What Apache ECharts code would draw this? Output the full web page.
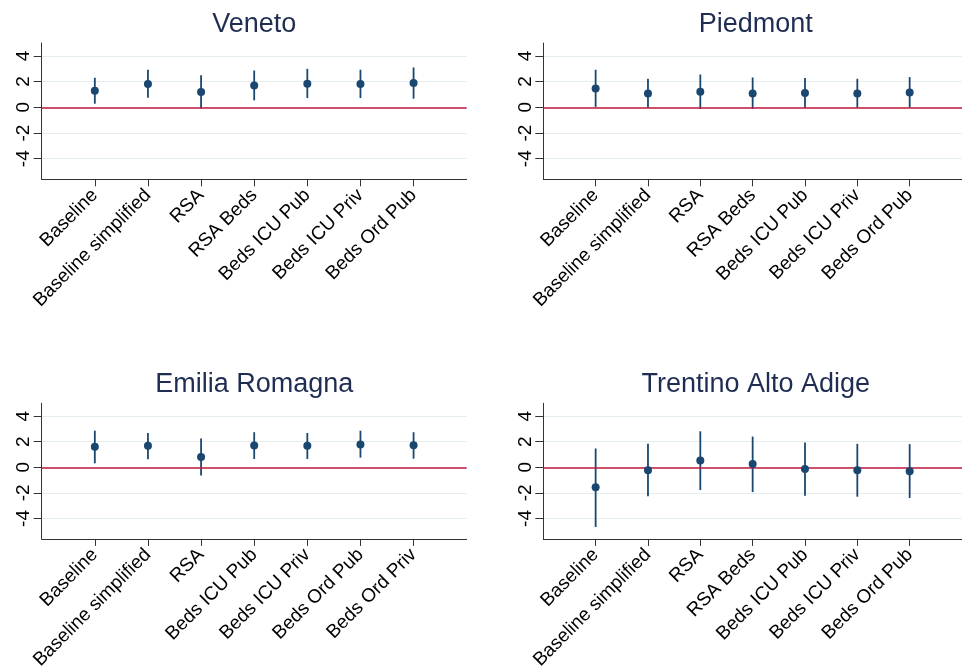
<!DOCTYPE html>
<html>
<head>
<meta charset="utf-8">
<script src="https://cdn.jsdelivr.net/npm/echarts@6/dist/echarts.min.js"></script>
<style>
html,body{margin:0;padding:0;background:#fff;}
#chart{width:962px;height:672px;}
</style>
</head>
<body>
<div id="chart"></div>
<script>
// ---- data ----
const panelTitles = ['Veneto', 'Piedmont', 'Emilia Romagna', 'Trentino Alto Adige'];
const catsStd = ['Baseline', 'Baseline simplified', 'RSA', 'RSA Beds', 'Beds ICU Pub', 'Beds ICU Priv', 'Beds Ord Pub'];
const catsER = ['Baseline', 'Baseline simplified', 'RSA', 'Beds ICU Pub', 'Beds ICU Priv', 'Beds Ord Pub', 'Beds Ord Priv'];
const yTicks = [-4, -2, 0, 2, 4];

const venetoEst = [1.29, 1.81, 1.19, 1.70, 1.83, 1.81, 1.88];
const venetoLo  = [0.28, 0.75, -0.10, 0.54, 0.72, 0.72, 0.67];
const venetoHi  = [2.30, 2.92, 2.50, 2.86, 2.99, 2.92, 3.10];

const piedEst = [1.47, 1.08, 1.21, 1.08, 1.11, 1.08, 1.16];
const piedLo  = [0.03, -0.03, -0.13, -0.13, -0.03, -0.03, 0.00];
const piedHi  = [2.92, 2.22, 2.55, 2.32, 2.27, 2.22, 2.35];

const emiliaEst = [1.60, 1.68, 0.80, 1.70, 1.68, 1.78, 1.73];
const emiliaLo  = [0.31, 0.62, -0.65, 0.65, 0.65, 0.75, 0.67];
const emiliaHi  = [2.86, 2.68, 2.25, 2.74, 2.68, 2.86, 2.74];

const trentEst = [-1.57, -0.23, 0.52, 0.26, -0.13, -0.23, -0.31];
const trentLo  = [-4.67, -2.27, -1.78, -1.94, -2.22, -2.30, -2.40];
const trentHi  = [1.47, 1.83, 2.81, 2.40, 1.94, 1.83, 1.81];

// ---- build chart ----
const NAVY = '#1a476f';
const RED = '#c0183c';
const GRIDC = '#e4edef';
const FONT = 'Liberation Sans, Arial, sans-serif';

const panels = [
  {title: panelTitles[0], cats: catsStd, est: venetoEst, lo: venetoLo, hi: venetoHi},
  {title: panelTitles[1], cats: catsStd, est: piedEst, lo: piedLo, hi: piedHi},
  {title: panelTitles[2], cats: catsER, est: emiliaEst, lo: emiliaLo, hi: emiliaHi},
  {title: panelTitles[3], cats: catsStd, est: trentEst, lo: trentLo, hi: trentHi}
];
const lefts = [41.7, 543.3];
const tops = [43, 403.3];
const W = 425, H = 136.3;

const option = {
  animation: false,
  backgroundColor: '#fff',
  title: [], grid: [], xAxis: [], yAxis: [], series: []
};

panels.forEach((p, i) => {
  const col = i % 2, row = Math.floor(i / 2);
  const L = lefts[col], T = tops[row];
  option.title.push({
    text: p.title, left: L + W / 2, top: T - 32, textAlign: 'center', padding: 0,
    textStyle: {fontFamily: FONT, fontSize: 27, fontWeight: 'normal', color: '#1f2d52'}
  });
  option.grid.push({left: L, top: T, width: W, height: H, containLabel: false});
  const xVals = p.cats.map((c, k) => k + 1);
  option.xAxis.push({
    type: 'value', gridIndex: i, min: 0, max: 8,
    axisLine: {show: true, onZero: false, lineStyle: {color: '#333', width: 1}},
    axisTick: {show: true, length: 7, customValues: xVals, lineStyle: {color: '#333'}},
    axisLabel: {
      show: true, customValues: xVals, rotate: 45, margin: 13,
      fontFamily: FONT, fontSize: 19, color: '#000',
      formatter: v => p.cats[Math.round(v) - 1] || ''
    },
    splitLine: {show: false}
  });
  option.yAxis.push({
    type: 'value', gridIndex: i, min: -5.6, max: 5,
    axisLine: {show: true, onZero: false, lineStyle: {color: '#333', width: 1}},
    axisTick: {show: true, length: 8, customValues: yTicks, lineStyle: {color: '#333'}},
    axisLabel: {
      show: true, customValues: yTicks, rotate: 90, margin: 8,
      fontFamily: FONT, fontSize: 19, color: '#000'
    },
    splitLine: {show: true, lineStyle: {color: GRIDC, width: 1.2}}
  });
  // zero reference line
  option.series.push({
    type: 'line', xAxisIndex: i, yAxisIndex: i, data: [], silent: true, z: 3,
    markLine: {
      silent: true, symbol: 'none', label: {show: false},
      lineStyle: {color: RED, width: 1.6, type: 'solid'},
      data: [{yAxis: 0}]
    }
  });
  // error bars
  option.series.push({
    type: 'custom', xAxisIndex: i, yAxisIndex: i, z: 4,
    data: p.lo.map((lo, k) => [k + 1, lo, p.hi[k]]),
    encode: {x: 0, y: [1, 2]},
    renderItem: (params, api) => {
      const a = api.coord([api.value(0), api.value(1)]);
      const b = api.coord([api.value(0), api.value(2)]);
      return {type: 'line', shape: {x1: a[0], y1: a[1], x2: b[0], y2: b[1]},
              style: {stroke: NAVY, lineWidth: 1.8}};
    }
  });
  // point estimates
  option.series.push({
    type: 'scatter', xAxisIndex: i, yAxisIndex: i, z: 5,
    symbol: 'circle', symbolSize: 8,
    itemStyle: {color: NAVY, opacity: 1},
    data: p.est.map((v, k) => [k + 1, v])
  });
});

const chart = echarts.init(document.getElementById('chart'), null, {renderer: 'canvas'});
chart.setOption(option);
</script>
</body>
</html>
